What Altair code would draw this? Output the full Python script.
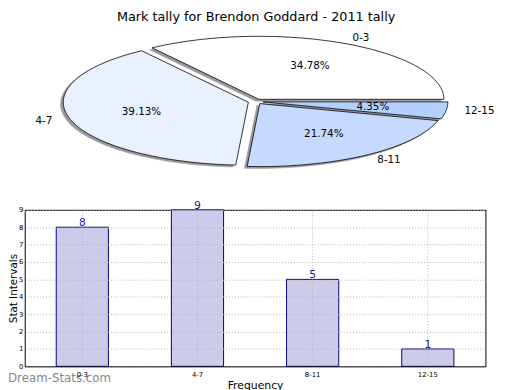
import math
import numpy as np
import pandas as pd
import altair as alt

# ---------------- data ----------------
title_text = "Mark tally for Brendon Goddard - 2011 tally"
categories = ["0-3", "4-7", "8-11", "12-15"]
counts = [8, 9, 5, 1]
slice_colors = ["#ffffff", "#eaf1fe", "#c6d9fe", "#b3d1fe"]
explode = [0.04, 0.04, 0.04, 0.04]
y_ticks = list(range(10))
x_title = "Frequency"
y_title = "Stat Intervals"
watermark = "Dream-Stats.com"

# ---------------- layout ----------------
FONT = "DejaVu Sans"
W, H = 512, 382
PIE_X = [63.4, 439.4]   # pixel range of x in [-1, 1]
PIE_Y = [156, 28]       # pixel range of y in [-1, 1]
BAR_X = [17, 485]
BAR_Y = [361, 202]
GRID = "#b4b4b4"

# ---------------- pie geometry (derived from counts) ----------------
total = sum(counts)
poly_rows, shadow_rows, lab_rows = [], [], []
a0 = 0.0
for k, (cat, v) in enumerate(zip(categories, counts)):
    frac = v / total
    a1 = a0 + 2 * math.pi * frac
    mid = (a0 + a1) / 2
    ox, oy = explode[k] * math.cos(mid), explode[k] * math.sin(mid)
    ts = np.linspace(a0, a1, max(4, int(frac * 240)))
    pts = [(ox, oy)] + [(ox + math.cos(t), oy + math.sin(t)) for t in ts] + [(ox, oy)]
    for i, (px, py) in enumerate(pts):
        poly_rows.append({"cat": cat, "i": i, "px": px, "py": py})
        shadow_rows.append({"cat": cat, "i": i, "px": px - 0.015, "py": py - 0.03})
    lab_rows.append({
        "cat": cat,
        "lx": ox + 1.1 * math.cos(mid),
        "ly": oy + 1.1 * math.sin(mid),
        "side": "L" if math.cos(mid) >= 0 else "R",
        "qx": ox + 0.6 * math.cos(mid),
        "qy": oy + 0.6 * math.sin(mid),
        "pct": f"{frac * 100:.2f}%",
    })
    a0 = a1

poly_df = pd.DataFrame(poly_rows)
shadow_df = pd.DataFrame(shadow_rows)
lab_df = pd.DataFrame(lab_rows)
bar_df = pd.DataFrame({"cat": categories, "count": counts})

# ---------------- pie ----------------
xs = alt.Scale(domain=[-1, 1], range=PIE_X, nice=False, zero=False)
ys = alt.Scale(domain=[-1, 1], range=PIE_Y, nice=False, zero=False)


def pxy(xf, yf):
    return dict(x=alt.X(xf, scale=xs, axis=None), y=alt.Y(yf, scale=ys, axis=None))


shadow = alt.Chart(shadow_df).mark_line(
    fill="#9a9a9a", stroke="#9a9a9a", strokeWidth=0.5
).encode(**pxy("px:Q", "py:Q"), detail="cat:N", order="i:Q")

slices = alt.Chart(poly_df).mark_line(stroke="black", strokeWidth=0.8).encode(
    **pxy("px:Q", "py:Q"),
    detail="cat:N",
    order="i:Q",
    fill=alt.Fill("cat:N", scale=alt.Scale(domain=categories, range=slice_colors), legend=None),
)

lab_left = alt.Chart(lab_df).transform_filter("datum.side == 'L'").mark_text(
    align="left", baseline="middle", fontSize=10.5, font=FONT, color="black"
).encode(**pxy("lx:Q", "ly:Q"), text="cat:N")

lab_right = alt.Chart(lab_df).transform_filter("datum.side == 'R'").mark_text(
    align="right", baseline="middle", fontSize=10.5, font=FONT, color="black"
).encode(**pxy("lx:Q", "ly:Q"), text="cat:N")

pcts = alt.Chart(lab_df).mark_text(
    align="center", baseline="middle", fontSize=10.5, font=FONT, color="black"
).encode(**pxy("qx:Q", "qy:Q"), text="pct:N")

pie_group = alt.layer(shadow, slices, lab_left, lab_right, pcts)

# ---------------- bars ----------------
bx = alt.Scale(domain=categories, range=BAR_X, paddingInner=0, paddingOuter=0)
by = alt.Scale(domain=[0, 9], range=BAR_Y, nice=False, zero=True)

bars = alt.Chart(bar_df).mark_bar(
    width=alt.RelativeBandSize(0.453), fill="#ccccea", stroke="#000080", strokeWidth=1
).encode(
    x=alt.X("cat:N", sort=categories, scale=bx, axis=alt.Axis(
        title=x_title, orient="bottom", offset=-(H - BAR_Y[0]), labelAngle=0, ticks=False,
        labelPadding=4, labelFontSize=7, labelFont=FONT, labelColor="black",
        grid=False, domainColor="black", domainWidth=1, titleFontSize=11, titleFont=FONT,
        titleFontWeight="normal", titleColor="black", titlePadding=3, zindex=1)),
    y=alt.Y("count:Q", scale=by, axis=alt.Axis(
        title=y_title, orient="left", offset=-BAR_X[0], values=y_ticks, ticks=False,
        labelPadding=2, labelFontSize=7, labelFont=FONT, labelColor="black", labelFlush=False,
        grid=True, gridDash=[1, 2], gridColor=GRID,
        domainColor="black", domainWidth=1, titleFontSize=10.5, titleFont=FONT,
        titleFontWeight="normal", titleColor="black", titleX=-6.5, zindex=1)),
)

xgrid = alt.Chart(bar_df).mark_rule(color=GRID, strokeDash=[1, 2], strokeWidth=1).encode(
    x=alt.X("cat:N", sort=categories, scale=bx, axis=None),
    y=alt.YDatum(0, axis=None),
    y2=alt.Y2Datum(9),
)

bar_labels = alt.Chart(bar_df).mark_text(
    baseline="bottom", dy=1, fontSize=11, font=FONT, color="#1a1a9c"
).encode(
    x=alt.X("cat:N", sort=categories, scale=bx, axis=None),
    y=alt.Y("count:Q", scale=by, axis=None),
    text="count:Q",
)

frame = alt.Chart(bar_df).mark_bar(opacity=0).encode(
    x=alt.X("cat:N", sort=categories, scale=bx, axis=alt.Axis(
        orient="top", offset=-BAR_Y[1], labels=False, ticks=False, grid=False, title=None,
        domainColor="black", domainWidth=1)),
    y=alt.Y("count:Q", scale=by, axis=alt.Axis(
        orient="right", offset=-(W - BAR_X[1]), labels=False, ticks=False, grid=False, title=None,
        domainColor="black", domainWidth=1)),
)

bar_group = alt.layer(bars, xgrid, bar_labels, frame).resolve_axis(x="independent", y="independent")

# ---------------- decorations ----------------
title_mark = alt.Chart(pd.DataFrame({"t": [title_text]})).mark_text(
    align="center", baseline="top", fontSize=13, font=FONT, color="black"
).encode(text="t:N", x=alt.value(252), y=alt.value(0))

wm_mark = alt.Chart(pd.DataFrame({"t": [watermark]})).mark_text(
    align="left", baseline="middle", fontSize=12, font=FONT, color="#888888"
).encode(text="t:N", x=alt.value(0), y=alt.value(373))

chart = alt.layer(pie_group, bar_group, title_mark, wm_mark).resolve_scale(
    x="independent", y="independent"
).properties(
    width=W, height=H, padding=0, autosize=alt.AutoSizeParams(type="none")
).configure_view(stroke=None)

chart.save("out.html", embed_options={"renderer": "svg", "actions": False})
